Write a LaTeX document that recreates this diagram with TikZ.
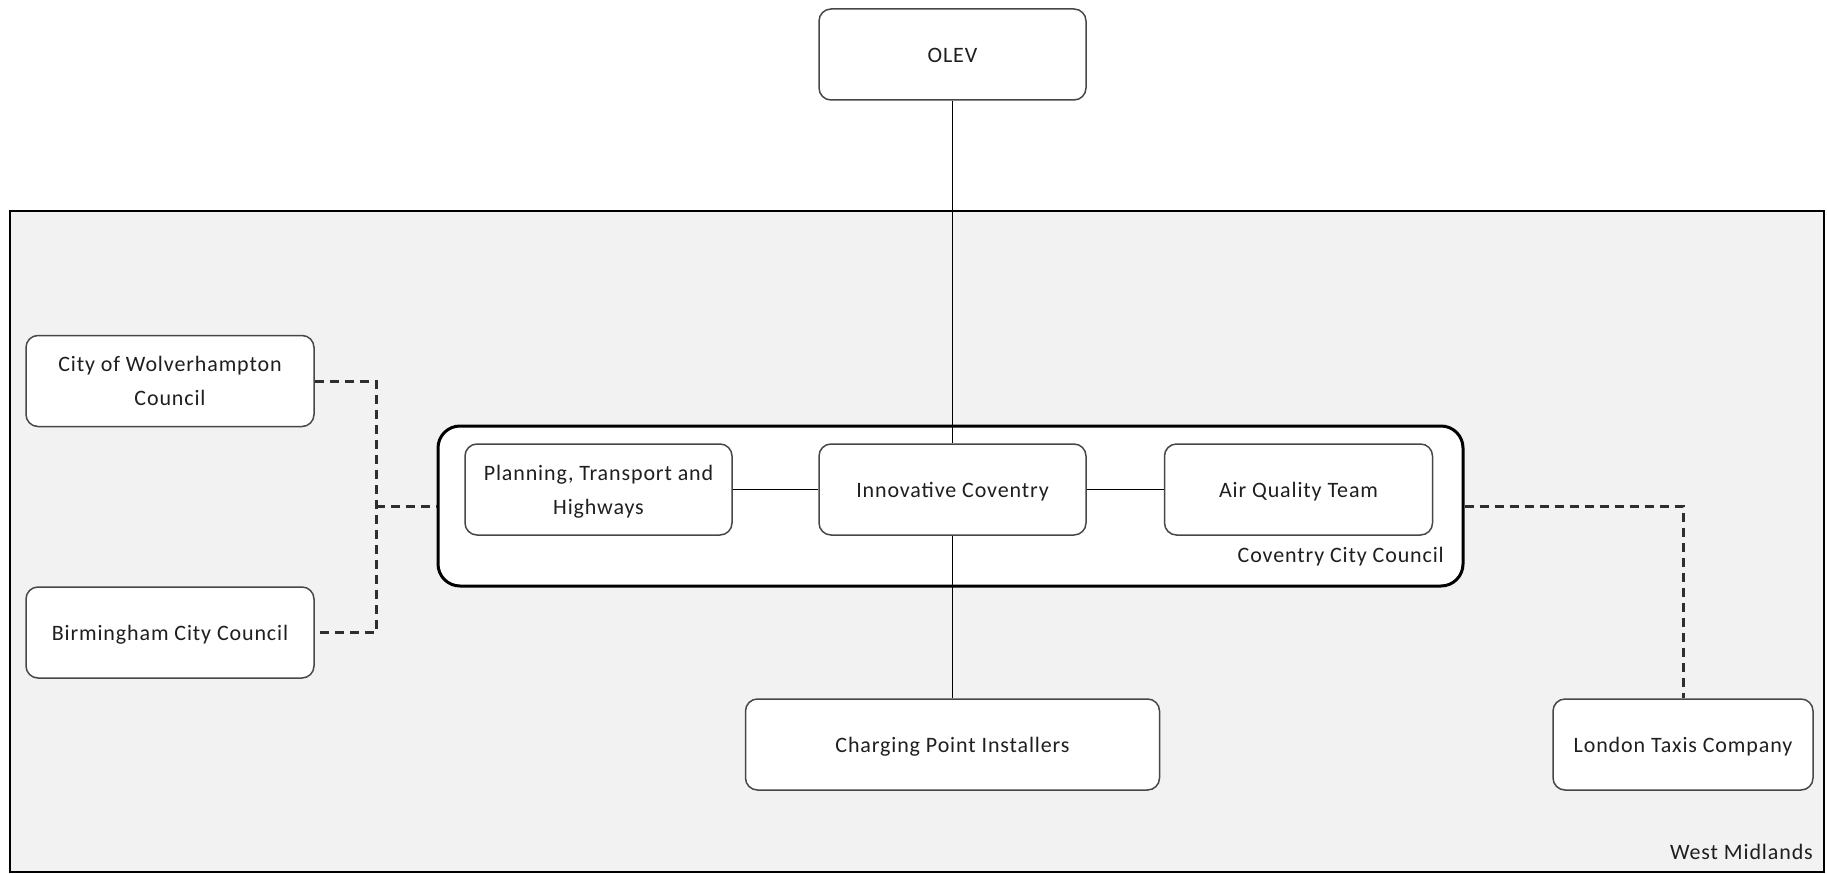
\documentclass[tikz,border=0pt]{standalone}
\usepackage{fontspec}
\setmainfont{Carlito}[LetterSpace=4]
\usepackage{tikz}
\usetikzlibrary{positioning}
\def\lift{\rule[-6pt]{0pt}{28pt}}
\tikzset{unit/.style={rounded corners=12pt,draw=black!72,line width=1.5pt,fill=white,align=center,inner sep=0pt,minimum height=91pt,text=black!88,execute at begin node=\lift,execute at end node=\lift}}
\tikzset{twoline/.style={text depth=-4pt}}
\tikzset{wire/.style={draw=black,line width=1.6pt}}
\tikzset{tie/.style={draw=black!82,line width=3pt,dash pattern=on 9pt off 6pt}}

\begin{document}
\begin{tikzpicture}[x=1pt,y=-1pt,font=\fontsize{22}{34}\selectfont,on grid]
        \useasboundingbox (0,0) rectangle (1827,874);
        \node(wm)[draw,line width=2.6pt,fill=black!5,minimum width=1814pt,minimum height=661pt,inner sep=0pt] at (917,541.5){};
        \node(wmlabel)[anchor=east,inner sep=0pt,text=black!88] at (1813,852){West Midlands};
        \node(cov)[draw,line width=3pt,rounded corners=22pt,fill=white,minimum width=1025pt,minimum height=160pt,inner sep=0pt] at (950.5,506){};
        \node(covlabel)[anchor=east,inner sep=0pt,text=black!88] at (1444,557){Coventry City Council};
        \node(inno)[unit,minimum width=267pt] at (952.5,489.5){Innovative Coventry};
        \node(olev)[unit,minimum width=267pt,above=435pt of inno]{OLEV};
        \node(plan)[unit,twoline,minimum width=267pt,left=354pt of inno]{Planning, Transport and\\Highways};
        \node(air)[unit,minimum width=268pt,right=346pt of inno]{Air Quality Team};
        \node(charge)[unit,minimum width=414pt,below=255pt of inno]{Charging Point Installers};
        \node(london)[unit,minimum width=260pt,below right=255pt and 730.5pt of inno]{London Taxis Company};
        \node(wolv)[unit,twoline,minimum width=288pt] at (170,381){City of Wolverhampton\\Council};
        \node(birm)[unit,minimum width=288pt,below=251.5pt of wolv]{Birmingham City Council};
        \coordinate(junc) at (376,506);
        \draw[wire]
        (olev) -- (inno)
        (plan) -- (inno)
        (inno) -- (air)
        (inno) -- (charge);
        \draw[tie] (wolv.east) -| (junc) |- (birm.east);
        \draw[tie] (junc) -- (cov.west);
        \draw[tie] (cov.east) -| (london.north);
      \end{tikzpicture}
\end{document}
